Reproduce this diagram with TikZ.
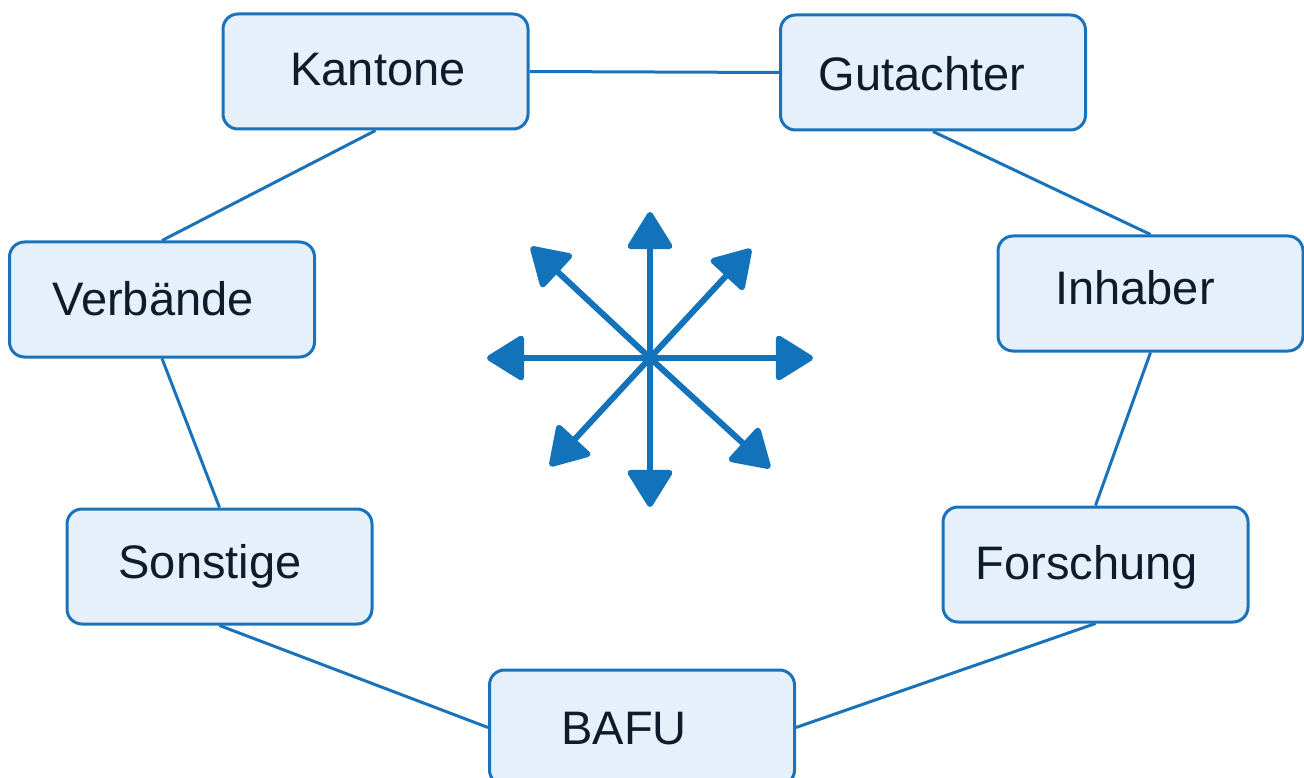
\documentclass[tikz,border=0pt]{standalone}
\usepackage{fontspec}
\setmainfont{Liberation Sans}
\usetikzlibrary{arrows.meta}
\definecolor{boxfill}{HTML}{E6F0FA}
\definecolor{boxline}{HTML}{1A73BA}
\definecolor{txtcol}{HTML}{0D1B2A}
\definecolor{arrcol}{HTML}{1373BA}
\tikzset{
  box/.style={draw=boxline, fill=boxfill, line width=3pt, rounded corners=15pt,
    minimum width=305pt, minimum height=115pt, inner sep=0pt},
  txt/.style={text=txtcol, font=\fontsize{47}{56}\selectfont, inner sep=0pt, anchor=center},
  link/.style={draw=boxline, line width=3pt},
  star/.style={draw=arrcol, line width=6pt,
    -{Triangle[length=40pt,width=48pt,round]}, arrcol}
}
\begin{document}
\begin{tikzpicture}[x=1pt,y=-1pt]
\useasboundingbox (0,0) rectangle (1304,778);
\coordinate (c) at (650,358);
\node[box] (kan) at (375.5,71.5) {};
\node[box] (gut) at (933,72.5) {};
\node[box] (ver) at (162,299.5) {};
\node[box] (inh) at (1150.5,293.5) {};
\node[box] (son) at (219.5,566.5) {};
\node[box] (for) at (1095.5,564.5) {};
\node[box] (baf) at (642,727.5) {};
\node[txt] (tkan) at (378,70) {Kantone};
\node[txt] (tgut) at (922,74) {Gutachter};
\node[txt] (tver) at (153,299) {Verbände};
\node[txt] (tinh) at (1135,288) {Inhaber};
\node[txt] (tson) at (210,566) {Sonstige};
\node[txt] (tfor) at (1087,567) {Forschung};
\node[txt] (tbaf) at (624,729) {BAFU};
% links
\draw[link] (kan.east) -- (gut.west);
\draw[link] (kan.south) -- (ver.north);
\draw[link] (gut.south) -- (inh.north);
\draw[link] (ver.south) -- (son.north);
\draw[link] (inh.south) -- (for.north);
\draw[link] (son.south) -- (baf.west);
\draw[link] (for.south) -- (baf.east);
% star of arrows
\coordinate (a1) at (650,212);
\coordinate (a2) at (650,507);
\coordinate (a3) at (487,358);
\coordinate (a4) at (813,358);
\coordinate (a5) at (531,247);
\coordinate (a6) at (751,249);
\coordinate (a7) at (550,466);
\coordinate (a8) at (770,468);
\foreach \t in {a1,a2,a3,a4,a5,a6,a7,a8}{
  \draw[star] (c) -- (\t);
}
\end{tikzpicture}
\end{document}
